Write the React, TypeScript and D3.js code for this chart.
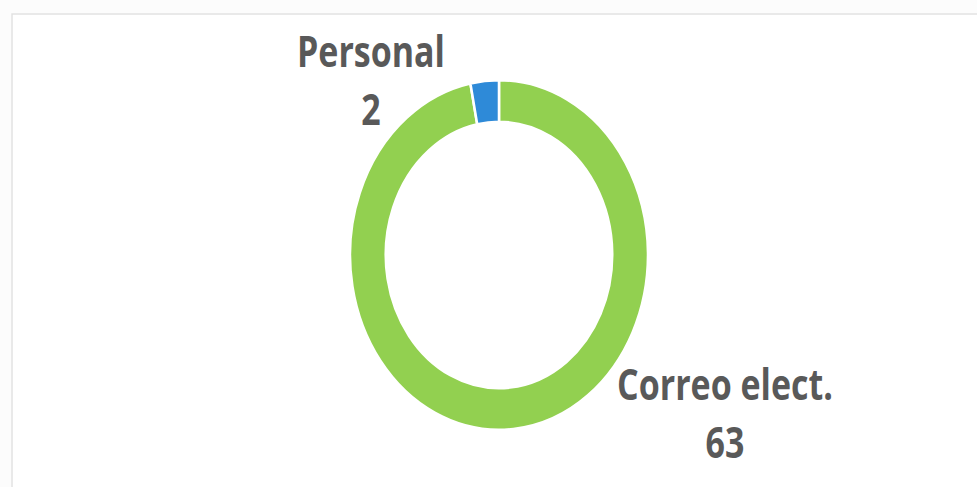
import React, { useEffect, useRef } from 'react';
import { select, pie, arc, PieArcDatum } from 'd3';

const categories = ['Correo elect.', 'Personal'];
const values = [63, 2];
const colors = ['#92D050', '#2E8AD8'];

// label anchor points (baseline of category line), page px
const labelAnchors: [number, number][] = [[725, 400], [371, 67]];

const W = 977;
const H = 487;

export default function App() {
  const ref = useRef<SVGSVGElement>(null);

  useEffect(() => {
    const svg = select(ref.current);
    svg.selectAll('*').remove();

    const cx = 499;
    const cy = 255;
    const ry = 175;
    const rx = 149;
    const inner = 133;

    svg.append('rect').attr('width', W).attr('height', H).attr('fill', '#fcfcfc');
    svg.append('rect')
      .attr('x', 12).attr('y', 14).attr('width', W).attr('height', H)
      .attr('fill', '#ffffff').attr('stroke', '#e2e2e2').attr('stroke-width', 1.5);

    const data = categories.map((c, i) => ({ name: c, value: values[i], color: colors[i] }));
    const arcs = pie<typeof data[0]>().value(d => d.value).sort(null)(data);
    const arcGen = arc<PieArcDatum<typeof data[0]>>().innerRadius(inner).outerRadius(ry);

    // scanned chart is stretched vertically, so squash x
    const g = svg.append('g')
      .attr('transform', `translate(${cx},${cy}) scale(${rx / ry},1)`);

    g.selectAll('path')
      .data(arcs)
      .enter()
      .append('path')
      .attr('d', arcGen)
      .attr('fill', d => d.data.color)
      .attr('stroke', '#ffffff')
      .attr('stroke-width', 3);

    const labels = svg.append('g');
    arcs.forEach((d, i) => {
      const [lx, ly] = labelAnchors[i];
      const t = labels.append('g').attr('transform', `translate(${lx},${ly}) scale(0.79,1)`);
      t.append('text')
        .attr('text-anchor', 'middle')
        .attr('font-family', '"Open Sans", sans-serif')
        .attr('font-weight', 700)
        .attr('font-size', 43)
        .attr('fill', '#595959')
        .text(d.data.name);
      t.append('text')
        .attr('y', 58)
        .attr('text-anchor', 'middle')
        .attr('font-family', '"Open Sans", sans-serif')
        .attr('font-weight', 700)
        .attr('font-size', 43)
        .attr('fill', '#595959')
        .text(String(d.data.value));
    });
  }, []);

  return (
    <svg
      ref={ref}
      width={W}
      height={H}
      style={{ position: 'absolute', left: 0, top: 0 }}
    />
  );
}
